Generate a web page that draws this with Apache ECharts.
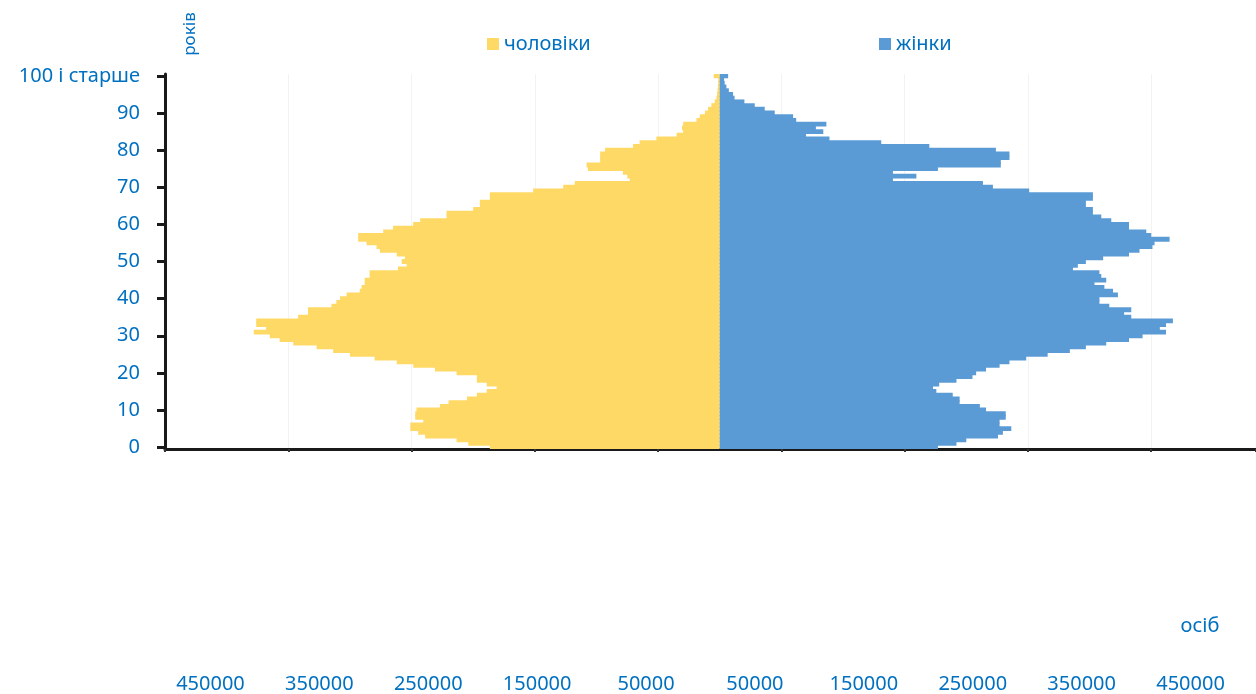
<!DOCTYPE html>
<html>
<head>
<meta charset="utf-8">
<title>Статево-вікова піраміда</title>
<script src="https://cdn.jsdelivr.net/npm/echarts@6/dist/echarts.min.js"></script>
<style>
  html, body { margin: 0; padding: 0; background: #ffffff; }
  #chart { width: 1256px; height: 694px; }
</style>
</head>
<body>
<div id="chart"></div>
<script>
// Age groups: single years 0..99 and the open group "100 і старше"
const ages = [];
for (let a = 0; a < 100; a++) ages.push(String(a));
ages.push('100 і старше');

// Men by single year of age, persons (0 .. 100+)
const male = [
  186500, 204000, 213500, 239000, 244600, 251000, 251000, 240500, 247000, 247000,
  246000, 227000, 220000, 205000, 197000, 189000, 181000, 189000, 197000, 197000,
  213500, 231000, 248600, 262000, 280000, 300000, 313600, 327000, 346000, 357000,
  365000, 378000, 368000, 376000, 376000, 342000, 334000, 334000, 315000, 311000,
  308000, 302700, 292000, 290500, 288000, 288000, 284000, 284000, 261000, 254000,
  258000, 255400, 262000, 275700, 278400, 286500, 293300, 293300, 273000, 265000,
  248700, 243000, 221600, 221600, 200000, 194600, 194600, 186500, 186500, 151400,
  127000, 117600, 73000, 75000, 78600, 107000, 108000, 97000, 97000, 97000,
  93000, 70300, 65000, 51400, 35000, 29700, 30600, 29700, 18900, 16200,
  12000, 9500, 6800, 4100, 2700, 2200, 1800, 1500, 1300, 1200, 4900
];

// Women by single year of age, persons (0 .. 100+)
const female = [
  177000, 192000, 200000, 225700, 229700, 236500, 227000, 227000, 232000, 232000,
  216000, 211000, 194600, 194600, 189000, 175700, 173000, 178000, 192000, 205000,
  208000, 216000, 227000, 235000, 248600, 266000, 284000, 297000, 313500, 332000,
  343000, 362000, 357000, 362000, 367600, 333800, 328000, 333800, 316000, 308000,
  308000, 323000, 319000, 312000, 304000, 313500, 309500, 308000, 286500, 290500,
  297000, 311000, 332000, 340500, 351000, 352700, 364900, 350000, 346000, 332000,
  332000, 317600, 309500, 302700, 302700, 297000, 297000, 302700, 302700, 251000,
  221600, 213500, 140500, 159500, 140500, 177000, 228000, 228000, 235000, 235000,
  224000, 170000, 131000, 89000, 70000, 84000, 78000, 86500, 62000, 59500,
  44600, 36500, 28400, 20000, 12000, 10800, 7400, 5400, 4000, 3500, 6800
];

// Scale labels for the persons axis (men to the left, women to the right)
const scaleLabels = [-450000, -350000, -250000, -150000, -50000,
                      50000, 150000, 250000, 350000, 450000];

const blueText = '#0070C0';
const menColor = '#FFD966';
const womenColor = '#5B9BD5';
const font = 'Noto Sans';

const chart = echarts.init(document.getElementById('chart'), null, { renderer: 'canvas' });

chart.setOption({
  animation: false,
  backgroundColor: '#ffffff',
  textStyle: { fontFamily: font },
  legend: [
    {
      data: ['чоловіки'], left: 482, top: 29,
      icon: 'rect', itemWidth: 12, itemHeight: 12,
      textStyle: { color: blueText, fontSize: 20, fontFamily: font }
    },
    {
      data: ['жінки'], left: 874, top: 29,
      icon: 'rect', itemWidth: 12, itemHeight: 12,
      textStyle: { color: blueText, fontSize: 20, fontFamily: font }
    }
  ],
  grid: [
    { left: 165, right: 0, top: 74, bottom: 245 },
    { left: 156, right: 11, top: 600, bottom: 18 }
  ],
  xAxis: [
    {
      type: 'value', gridIndex: 0,
      min: -450000, max: 435000, interval: 100000,
      axisLine: { show: true, onZero: false, lineStyle: { color: '#1a1a1a', width: 3 } },
      axisTick: { show: true, length: 3, lineStyle: { color: '#333333', width: 2 } },
      axisLabel: { show: false },
      splitLine: { show: true, lineStyle: { color: '#f3f3f3', width: 1 } }
    },
    {
      type: 'value', gridIndex: 1,
      min: -500000, max: 500000,
      axisLine: { show: false },
      axisTick: { show: false },
      splitLine: { show: false },
      axisLabel: {
        customValues: scaleLabels,
        formatter: v => String(Math.abs(v)),
        color: blueText, fontSize: 20, fontFamily: font, margin: 4
      }
    }
  ],
  yAxis: [
    {
      type: 'category', gridIndex: 0, data: ages,
      axisLine: { show: true, onZero: false, lineStyle: { color: '#1a1a1a', width: 3 } },
      axisTick: { show: true, alignWithLabel: true, interval: 9, length: 8,
                  lineStyle: { color: '#1a1a1a', width: 3 } },
      axisLabel: { interval: 9, color: blueText, fontSize: 20, fontFamily: font, margin: 25 },
      splitLine: { show: false }
    },
    { type: 'value', gridIndex: 1, show: false }
  ],
  series: [
    {
      name: 'чоловіки', type: 'bar', stack: 'population',
      xAxisIndex: 0, yAxisIndex: 0,
      data: male.map(v => -v),
      barWidth: '130%',
      itemStyle: { color: menColor }
    },
    {
      name: 'жінки', type: 'bar', stack: 'population',
      xAxisIndex: 0, yAxisIndex: 0,
      data: female,
      barWidth: '130%',
      itemStyle: { color: womenColor }
    }
  ],
  graphic: [
    {
      type: 'text', x: 190, y: 34, rotation: Math.PI / 2,
      style: { text: 'років', fill: blueText, fontSize: 17, fontFamily: font,
               align: 'center', verticalAlign: 'middle' }
    },
    {
      type: 'text', x: 1200, y: 626,
      style: { text: 'осіб', fill: blueText, fontSize: 20, fontFamily: font,
               align: 'center', verticalAlign: 'middle' }
    }
  ]
});
</script>
</body>
</html>
